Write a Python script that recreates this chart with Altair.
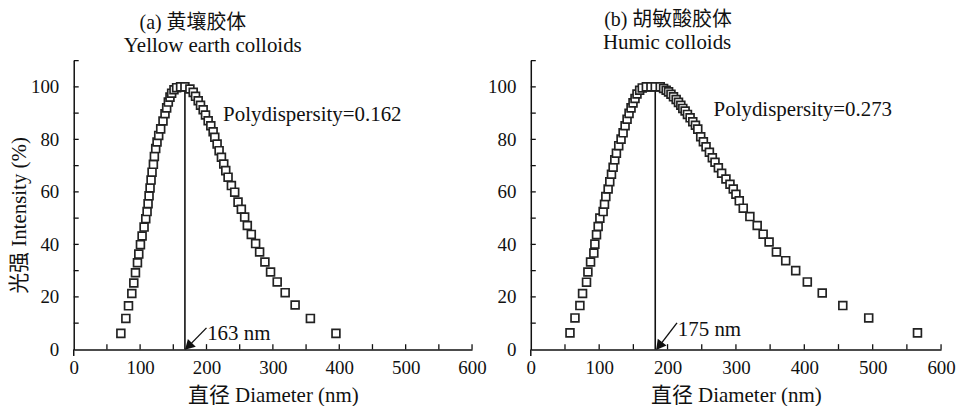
import altair as alt
import pandas as pd

# ---- data ----
a_diam = [71, 78.5, 82.5, 87.5, 90.5, 93, 96, 98, 100.5, 103, 106, 108.5, 110.5, 112, 113.5,
          115, 116.5, 118, 120, 121.5, 123.5, 125.5, 128, 131, 134.5, 137.5, 140, 142.5, 145,
          147.5, 151, 155, 161, 167.5,
          175, 180, 183.5, 187.5, 191, 195, 198.5, 202.5, 206.5, 210, 212.5, 216, 219, 222.5,
          226, 229, 232.5, 237.5, 242.5, 247.5, 252.5, 257.5, 261.5, 267.5, 274, 280, 288,
          296.5, 306.5, 318.5, 333.5, 356.5, 395]
a_int = [6.1, 11.8, 16.6, 21.3, 25.3, 29.2, 33.0, 36.3, 39.9, 43.2, 46.6, 49.8, 52.5, 55.5, 58.5,
         61.5, 64.5, 67.5, 70.5, 73.5, 76.5, 79, 81.5, 84, 87, 89.8, 92, 94.2, 96.1,
         97.6, 98.9, 99.7, 100, 100,
         99.2, 97.9, 96.4, 94.7, 93, 91.3, 89.3, 87.1, 85.2, 82.9, 80.8, 78.2, 75.7, 73.2,
         70.6, 68.1, 65.6, 62.4, 59.9, 56.1, 53.4, 50.4, 47.2, 43.8, 40.3, 37.1, 33.3,
         29.5, 25.7, 21.6, 16.9, 11.8, 6.1]

b_diam = [57.3, 64.6, 71.8, 75.7, 81.5, 83.5, 87.4, 92.2, 93.7, 96.1, 98.5, 101, 105.8, 107.8,
          109.7, 113.1, 115.5, 118, 120.4, 122.8, 125.2, 128.6, 132, 135, 137.9, 140.8, 143.7,
          146.6, 149.5, 152.4, 155.3, 159.2, 163, 169, 175.7, 182,
          189.3, 194.2, 198, 201.5, 205, 208.7, 212.6, 216, 219.4, 222.3, 225.7, 229.1, 233,
          236.9, 240.8, 244.2, 248.5, 252.4, 256.3, 261.2, 265.5, 269.4, 274.3, 279.1, 285.4,
          291.3, 296.1, 300, 304.9, 310.7, 320.4, 331.1, 339.8, 348.5, 359.2, 372.8, 387.4,
          404.4, 426.2, 456.3, 494.2, 565.5]
b_int = [6.3, 12, 16.7, 21.3, 25.6, 29.5, 33.3, 36.7, 40.1, 43.7, 46.8, 50, 52.5, 55.3,
         58.2, 61.1, 63.9, 66.7, 69.4, 72.2, 74.7, 77.6, 80.1, 82.5, 85.2, 87.7, 89.9,
         92, 93.9, 95.6, 97.3, 98.7, 99.6, 100, 100, 100,
         100, 99.4, 98.7, 98.1, 97.2, 96.2, 95.2, 94.1, 93, 91.8, 90.8, 89.5, 88.2,
         86.7, 85.4, 83.9, 81, 79.1, 77.2, 75.1, 73, 71.3, 69.2, 67.1, 64.9,
         62.9, 61.1, 59.1, 56.6, 53.8, 50.6, 47.2, 43.9, 40.9, 37.1, 33.8, 30,
         25.7, 21.5, 16.7, 12, 6.3]

x_label_values = [0, 100, 200, 300, 400, 500, 600]
y_label_values = [0, 20, 40, 60, 80, 100]
x_minor_ticks = [50, 100, 150, 200, 250, 300, 350, 400, 450, 500, 550, 600]
y_minor_ticks = [10, 20, 30, 40, 50, 60, 70, 80, 90, 100, 110]

FONT = "Liberation Serif, Noto Sans CJK SC"
INK = "#111111"


def panel(diam, inten, width, peak_x, tail, tip, head, head_angle, nm_xy, nm_text,
          poly_xy, poly_text, t1_xy, t1, t2_xy, t2, ytitle, ytick_len):
    xscale = alt.Scale(domain=[0, 600], nice=False, zero=False)
    yscale = alt.Scale(domain=[0, 110], nice=False, zero=False)
    common = dict(ticks=False, tickSize=0, grid=False, format="d",
                  domainColor=INK, domainWidth=1.5, labelColor=INK, titleColor=INK,
                  labelFont=FONT, titleFont=FONT, labelFontSize=19, titleFontSize=21,
                  titleFontWeight="normal", labelFlush=False)
    xaxis = alt.Axis(values=x_label_values, title="直径 Diameter (nm)",
                     labelPadding=9, titlePadding=7, **common)
    yaxis = alt.Axis(values=y_label_values, title=ytitle,
                     labelPadding=15, titlePadding=1, titleY=155, **common)

    def X(f):
        return alt.X(f, type="quantitative", scale=xscale, axis=xaxis)

    def Y(f):
        return alt.Y(f, type="quantitative", scale=yscale, axis=yaxis)

    pts = pd.DataFrame({"x": diam, "y": inten})
    points = alt.Chart(pts).mark_point(shape="square", filled=True, fill="white",
                                       stroke="#222222", strokeWidth=1.7, size=62,
                                       opacity=1).encode(x=X("x"), y=Y("y"))

    vline = alt.Chart(pd.DataFrame({"x": [peak_x], "y": [0], "y2": [100]})).mark_rule(
        color=INK, strokeWidth=1.6).encode(x=X("x"), y=Y("y"), y2="y2")

    xt = pd.DataFrame({"x": x_minor_ticks, "y": [0] * len(x_minor_ticks),
                       "y2": [2] * len(x_minor_ticks)})
    xticks = alt.Chart(xt).mark_rule(color=INK, strokeWidth=1.3).encode(
        x=X("x"), y=Y("y"), y2="y2")
    yt = pd.DataFrame({"y": y_minor_ticks, "x": [0] * len(y_minor_ticks),
                       "x2": [ytick_len] * len(y_minor_ticks)})
    yticks = alt.Chart(yt).mark_rule(color=INK, strokeWidth=1.3).encode(
        y=Y("y"), x=X("x"), x2="x2")
    ext = alt.Chart(pd.DataFrame({"x": [0], "y": [-2.5], "y2": [0]})).mark_rule(
        color=INK, strokeWidth=1.5).encode(x=X("x"), y=Y("y"), y2="y2")

    arrow = alt.Chart(pd.DataFrame({"x": [tail[0]], "y": [tail[1]], "x2": [tip[0]],
                                    "y2": [tip[1]]})).mark_rule(
        color=INK, strokeWidth=1.4).encode(x=X("x"), y=Y("y"), x2="x2", y2="y2")
    arrowhead = alt.Chart(pd.DataFrame({"x": [head[0]], "y": [head[1]]})).mark_point(
        shape="triangle-up", filled=True, fill=INK, stroke=INK, size=60, angle=head_angle,
        opacity=1).encode(x=X("x"), y=Y("y"))

    def txt(xy, s, align, size):
        return alt.Chart(pd.DataFrame({"x": [xy[0]], "y": [xy[1]], "t": [s]})).mark_text(
            font=FONT, fontSize=size, color=INK, align=align, baseline="middle").encode(
            x=X("x"), y=Y("y"), text="t:N")

    layers = [vline, points, xticks, yticks, ext, arrow, arrowhead,
              txt(nm_xy, nm_text, "left", 21), txt(poly_xy, poly_text, "left", 21),
              txt(t1_xy, t1, "center", 20), txt(t2_xy, t2, "center", 21)]
    return alt.layer(*layers).properties(width=width, height=290)


left = panel(a_diam, a_int, 400, 167.5, (200, 8.2), (169, 0.2), (173.3, 1.3), 225,
             (201, 5.7), "163 nm", (225, 89.2), "Polydispersity=0.162",
             (179.5, 124.4), "(a) 黄壤胶体", (209.5, 115.4), "Yellow earth colloids",
             "光强 Intensity (%)", 7.5)
right = panel(b_diam, b_int, 412, 182, (213.8, 10.1), (184.7, 0.2), (188.2, 1.45), 218,
              (215, 7.2), "175 nm", (267.3, 91.1), "Polydispersity=0.273",
              (200.7, 125.6), "(b) 胡敏酸胶体", (199.3, 116.8), "Humic colloids",
              "", 7.3)

chart = alt.hconcat(left, right, spacing=0).properties(
    padding={"left": 0, "top": 0, "right": 0, "bottom": 0}, background="white"
).configure_view(stroke=None)

chart.save("out.html", embed_options={"renderer": "svg", "actions": False})
